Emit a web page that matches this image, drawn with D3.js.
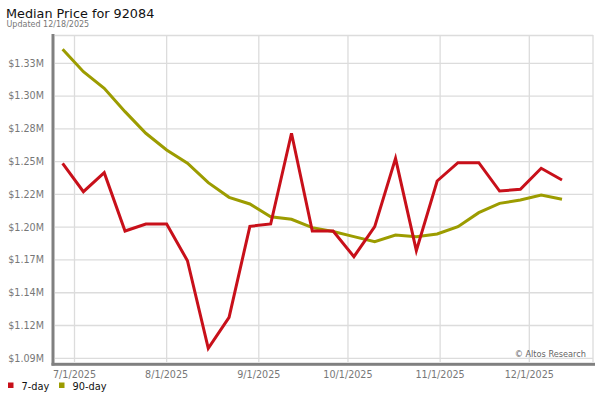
<!DOCTYPE html>
<html>
<head>
<meta charset="utf-8">
<script src="https://cdn.jsdelivr.net/npm/d3@7"></script>
<style>
  html, body { margin: 0; padding: 0; background: #fff; }
  svg { display: block; font-family: "DejaVu Sans", Verdana, sans-serif; }
</style>
</head>
<body>
<svg id="chart" width="600" height="400"></svg>
<script>
const titleText = "Median Price for 92084";
const subtitleText = "Updated 12/18/2025";
const creditText = "\u00A9 Altos Research";

const dates = [
  "2025-06-27","2025-07-04","2025-07-11","2025-07-18","2025-07-25",
  "2025-08-01","2025-08-08","2025-08-15","2025-08-22","2025-08-29",
  "2025-09-05","2025-09-12","2025-09-19","2025-09-26","2025-10-03",
  "2025-10-10","2025-10-17","2025-10-24","2025-10-31","2025-11-07",
  "2025-11-14","2025-11-21","2025-11-28","2025-12-05","2025-12-12"
];
const sevenDay = [
  1.2520, 1.2289, 1.2443, 1.1969, 1.2026,
  1.2026, 1.1727, 1.1015, 1.1267, 1.2007,
  1.2026, 1.2764, 1.1969, 1.1969, 1.1760,
  1.2004, 1.2560, 1.1809, 1.2376, 1.2525,
  1.2525, 1.2294, 1.2308, 1.2479, 1.2384
];
const ninetyDay = [
  1.3447, 1.3265, 1.3130, 1.2940, 1.2764,
  1.2628, 1.2520, 1.2362, 1.2243, 1.2189,
  1.2085, 1.2064, 1.1996, 1.1965, 1.1923,
  1.1882, 1.1936, 1.1923, 1.1945, 1.2004,
  1.2118, 1.2194, 1.2221, 1.2262, 1.2227
];
const seriesNames = ["7-day", "90-day"];
const seriesColors = ["#c8101a", "#9c9c00"];

const yTickValues = [1.09333, 1.12, 1.14667, 1.17333, 1.2, 1.22667, 1.25333, 1.28, 1.30667, 1.33333];
const yTickLabels = ["$1.09M","$1.12M","$1.14M","$1.17M","$1.20M","$1.22M","$1.25M","$1.28M","$1.30M","$1.33M"];
const xTickDates = ["2025-07-01","2025-08-01","2025-09-01","2025-10-01","2025-11-01","2025-12-01"];
const xTickLabels = ["7/1/2025","8/1/2025","9/1/2025","10/1/2025","11/1/2025","12/1/2025"];

const parse = d3.utcParse("%Y-%m-%d");
const svg = d3.select("#chart");

const plot = { left: 55, right: 593, top: 35, bottom: 362 };

const x = d3.scaleUtc()
  .domain([parse("2025-07-01"), parse("2025-12-01")])
  .range([74.5, 529.3]);
const y = d3.scaleLinear()
  .domain([yTickValues[0], yTickValues[yTickValues.length - 1]])
  .range([358.3, 63.3]);

// Title
svg.append("text").attr("x", 6).attr("y", 18)
  .attr("font-size", 12.8).attr("fill", "#111").text(titleText);
svg.append("text").attr("x", 6.5).attr("y", 27)
  .attr("font-size", 8).attr("fill", "#777").text(subtitleText);

// Grid
const grid = svg.append("g");
grid.append("line").attr("x1", plot.left).attr("x2", plot.right)
  .attr("y1", plot.top + 0.5).attr("y2", plot.top + 0.5)
  .attr("stroke", "#dcdcdc").attr("stroke-width", 1.3);
grid.append("line").attr("x1", plot.right).attr("x2", plot.right)
  .attr("y1", plot.top).attr("y2", plot.bottom)
  .attr("stroke", "#dcdcdc").attr("stroke-width", 1.3);
grid.selectAll(".hg").data(yTickValues).join("line")
  .attr("x1", plot.left).attr("x2", plot.right)
  .attr("y1", d => y(d)).attr("y2", d => y(d))
  .attr("stroke", "#dcdcdc").attr("stroke-width", 1.3);
grid.selectAll(".vg").data(xTickDates).join("line")
  .attr("x1", d => x(parse(d))).attr("x2", d => x(parse(d)))
  .attr("y1", plot.top).attr("y2", plot.bottom)
  .attr("stroke", "#dcdcdc").attr("stroke-width", 1.3);

// Axes bars
svg.append("rect").attr("x", 51.5).attr("y", 34).attr("width", 3).attr("height", 331.5).attr("fill", "#808080");
svg.append("rect").attr("x", 51.5).attr("y", 362.8).attr("width", 543.5).attr("height", 3).attr("fill", "#808080");

// Y labels
svg.append("g").selectAll("text").data(yTickValues).join("text")
  .attr("x", 44).attr("y", d => y(d))
  .attr("dy", "0.35em").attr("text-anchor", "end")
  .attr("font-size", 9.6).attr("fill", "#777")
  .text((d, i) => yTickLabels[i]);

// X labels
svg.append("g").selectAll("text").data(xTickDates).join("text")
  .attr("x", d => x(parse(d))).attr("y", 377.5)
  .attr("text-anchor", "middle")
  .attr("font-size", 9.6).attr("fill", "#777")
  .text((d, i) => xTickLabels[i]);

// Credit
svg.append("text").attr("x", 586).attr("y", 356.5).attr("text-anchor", "end")
  .attr("font-size", 8.2).attr("fill", "#666").text(creditText);

// Lines
const seriesValues = [sevenDay, ninetyDay];
const line = d3.line().x(d => x(d[0])).y(d => y(d[1]));
[1, 0].forEach(s => {
  const pts = dates.map((d, i) => [parse(d), seriesValues[s][i]]);
  svg.append("path").datum(pts)
    .attr("d", line).attr("fill", "none")
    .attr("stroke", seriesColors[s]).attr("stroke-width", 3)
    .attr("stroke-linejoin", "miter");
});

// Legend
const legendX = [8, 59];
seriesNames.forEach((name, i) => {
  svg.append("rect").attr("x", legendX[i]).attr("y", 382.5)
    .attr("width", 5.5).attr("height", 5.5).attr("fill", seriesColors[i]);
  svg.append("text").attr("x", legendX[i] + 13.5).attr("y", 389.5)
    .attr("font-size", 9.8).attr("fill", "#111").text(name);
});
</script>
</body>
</html>
